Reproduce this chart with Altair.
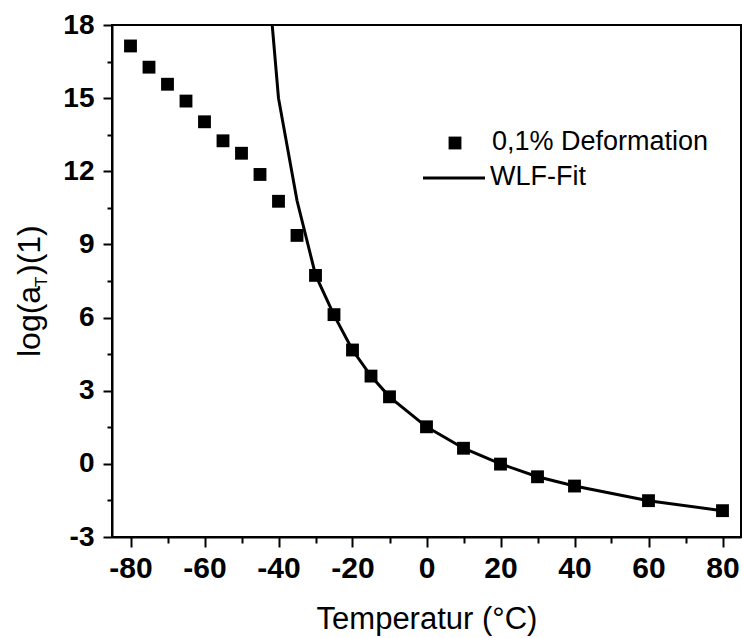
import altair as alt
import pandas as pd

# measured data (0,1% Deformation)
temp = [-80, -75, -70, -65, -60, -55, -50, -45, -40, -35, -30, -25, -20, -15, -10, 0, 10, 20, 30, 40, 60, 80]
log_at = [17.14, 16.27, 15.57, 14.88, 14.03, 13.25, 12.74, 11.87, 10.77, 9.37, 7.73, 6.12, 4.67, 3.60, 2.75, 1.52, 0.64, -0.01, -0.53, -0.91, -1.51, -1.92]

# WLF fit curve
fit_t = [-41.7, -40, -35, -30, -25, -20, -15, -10, 0, 10, 20, 30, 40, 60, 80]
fit_y = [18.0, 15.0, 10.8, 7.75, 6.1, 4.67, 3.6, 2.75, 1.52, 0.64, 0.0, -0.53, -0.91, -1.51, -1.92]

x_major = [-80, -60, -40, -20, 0, 20, 40, 60, 80]
x_minor = [-70, -50, -30, -10, 10, 30, 50, 70]
y_major = [-3, 0, 3, 6, 9, 12, 15, 18]
y_minor = [-1.5, 1.5, 4.5, 7.5, 10.5, 13.5, 16.5]

W, H = 629, 512
LBL = "Liberation Sans"

pts = pd.DataFrame({"T": temp, "v": log_at})
fit = pd.DataFrame({"T": fit_t, "v": fit_y})

xs = alt.Scale(domain=[-85, 85], nice=False, zero=False)
ys = alt.Scale(domain=[-3, 18], nice=False, zero=False)

x_axis = alt.Axis(values=x_major, title="Temperatur (°C)", labelExpr="'' + datum.value",
                  labelFont=LBL, labelFontWeight="bold", labelFontSize=30, labelColor="black",
                  labelPadding=6, labelFlush=False, tickSize=10, tickWidth=2, tickColor="black",
                  domainColor="black", domainWidth=2, grid=False,
                  titleFont=LBL, titleFontWeight="normal", titleFontSize=31, titleColor="black",
                  titleY=91, titleBaseline="alphabetic", orient="bottom")
y_axis = alt.Axis(values=y_major, title=None, labelExpr="'' + datum.value",
                  labelFont=LBL, labelFontWeight="bold", labelFontSize=28, labelColor="black",
                  labelPadding=9, labelFlush=False, tickSize=9, tickWidth=2, tickColor="black",
                  domainColor="black", domainWidth=2, grid=False, orient="left")

x_minor_axis = alt.Axis(values=x_minor, title=None, labels=False, tickSize=6, tickWidth=2,
                        tickColor="black", domain=False, grid=False, orient="bottom")
y_minor_axis = alt.Axis(values=y_minor, title=None, labels=False, tickSize=5, tickWidth=2,
                        tickColor="black", domain=False, grid=False, orient="left")

points = alt.Chart(pts).mark_point(shape="square", filled=True, color="black", size=165, opacity=1).encode(
    x=alt.X("T:Q", scale=xs, axis=x_axis),
    y=alt.Y("v:Q", scale=ys, axis=y_axis),
)

line = alt.Chart(fit).mark_line(color="black", strokeWidth=3, clip=True).encode(
    x=alt.X("T:Q", scale=xs, axis=x_minor_axis),
    y=alt.Y("v:Q", scale=ys, axis=y_minor_axis),
)

# legend
leg_sq = alt.Chart(pd.DataFrame({"a": [0]})).mark_point(shape="square", filled=True, color="black", size=165, opacity=1).encode(
    x=alt.value(343), y=alt.value(118))
leg_t1 = alt.Chart(pd.DataFrame({"a": [0]})).mark_text(
    text="0,1% Deformation", font=LBL, fontSize=27, align="left", baseline="middle", color="black").encode(
    x=alt.value(380), y=alt.value(117))
leg_ln = alt.Chart(pd.DataFrame({"a": [0]})).mark_rule(color="black", strokeWidth=3).encode(
    x=alt.value(311), x2=alt.value(373), y=alt.value(153))
leg_t2 = alt.Chart(pd.DataFrame({"a": [0]})).mark_text(
    text="WLF-Fit", font=LBL, fontSize=27, align="left", baseline="middle", color="black").encode(
    x=alt.value(378), y=alt.value(152))

# y axis title: log(a_T)(1)
yt1 = alt.Chart(pd.DataFrame({"a": [0]})).mark_text(
    text="log(a", font=LBL, fontSize=32, angle=270, align="left", baseline="alphabetic", color="black").encode(
    x=alt.value(-72), y=alt.value(332))
yt2 = alt.Chart(pd.DataFrame({"a": [0]})).mark_text(
    text="T", font=LBL, fontSize=17, angle=270, align="left", baseline="alphabetic", color="black").encode(
    x=alt.value(-65), y=alt.value(262))
yt3 = alt.Chart(pd.DataFrame({"a": [0]})).mark_text(
    text=")(1)", font=LBL, fontSize=32, angle=270, align="left", baseline="alphabetic", color="black").encode(
    x=alt.value(-72), y=alt.value(250))

chart = alt.layer(points, line, leg_sq, leg_t1, leg_ln, leg_t2, yt1, yt2, yt3).resolve_axis(
    x="independent", y="independent"
).properties(
    width=W, height=H,
    autosize=alt.AutoSizeParams(type="none"),
    padding={"left": 112, "top": 25, "right": 1, "bottom": 101},
    background="white",
).configure_view(stroke="black", strokeWidth=2)

chart.save("out.html", embed_options={"renderer": "svg", "actions": False})
